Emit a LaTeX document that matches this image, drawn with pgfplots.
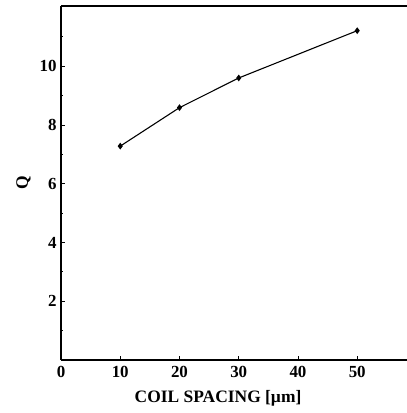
\documentclass[border=0pt]{standalone}
\usepackage{pgfplots}
\pgfplotsset{compat=1.18}
\usepackage{fontspec}
\setmainfont{Liberation Serif}
\begin{document}
\begin{tikzpicture}
\begin{axis}[
  scale only axis,
  width=346bp, height=354bp,
  xmin=0, xmax=58.4, ymin=0, ymax=12.05,
  axis lines*=left,
  axis line style={line width=1.4pt},
  xtick={0,10,20,30,40,50},
  ytick={2,4,6,8,10},
  minor ytick={1,3,5,7,9,11},
  tick align=inside,
  major tick length=4pt,
  minor tick length=2.5pt,
  tick style={black, line width=0.8pt},
  /pgf/number format/assume math mode=true,
  ticklabel style={font=\fontsize{17}{19}\selectfont\bfseries},
  xticklabel style={yshift=-3pt},
  yticklabel style={xshift=-1pt},
  xlabel={COIL SPACING [\textmu m]},
  ylabel={Q},
  label style={font=\fontsize{17.5}{19}\selectfont\bfseries},
  xlabel style={yshift=-6pt, xshift=-16pt},
  ylabel style={yshift=2pt},
  clip=false,
]
\draw[line width=1.4pt] (rel axis cs:0,1) -- (rel axis cs:1,1);
\addplot[black, line width=1.1pt, mark=diamond*, mark size=2.5pt] coordinates {
  (10,7.28) (20,8.59) (30,9.6) (50,11.21)
};
\end{axis}
\pgfresetboundingbox
\path (current axis.south west)+(-61bp,-53bp) coordinate (a);
\path (current axis.north east)+(0bp,6bp) coordinate (b);
\path (a) rectangle (b);
\end{tikzpicture}
\end{document}
